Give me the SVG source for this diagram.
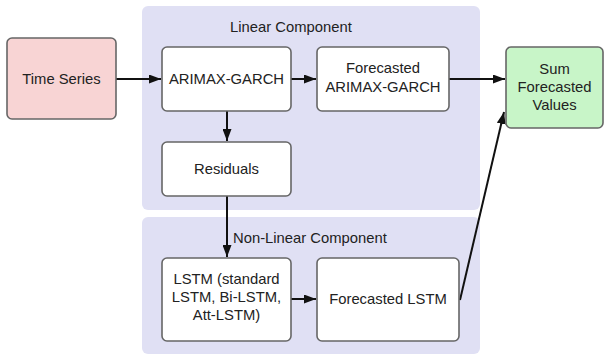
<svg xmlns="http://www.w3.org/2000/svg" width="611" height="356" viewBox="0 0 611 356">
  <style>
    text { font-family: "Liberation Sans", Arial, sans-serif; font-size: 14.8px; fill: #222; text-anchor: middle; }
    .panel { fill: #e0e0f4; stroke: none; }
    .box { fill: #ffffff; stroke: #666666; stroke-width: 1.6; }
    .start { fill: #f8d4d4; }
    .end { fill: #c8f5c8; }
    .edge { fill: none; stroke: #111; stroke-width: 2; marker-end: url(#head); }
    .label { text-anchor: start; }
  </style>
  <defs>
    <marker id="head" viewBox="0 0 12 9" refX="12" refY="4.5" markerWidth="6" markerHeight="4.5" orient="auto" markerUnits="strokeWidth">
      <path d="M0,0 L12,4.5 L0,9 z" fill="#111"/>
    </marker>
  </defs>

  <!-- component panels -->
  <g id="linear-component">
    <rect class="panel" x="142" y="6" width="338" height="204" rx="6"/>
    <text class="label" x="230" y="32">Linear Component</text>
  </g>
  <g id="nonlinear-component">
    <rect class="panel" x="142" y="217" width="338" height="137" rx="6"/>
    <text class="label" x="233" y="243">Non-Linear Component</text>
  </g>

  <!-- connectors -->
  <g id="connectors">
    <line class="edge" x1="116" y1="79" x2="161" y2="79"/>
    <line class="edge" x1="291" y1="79" x2="316" y2="79"/>
    <line class="edge" x1="449" y1="79" x2="505" y2="79"/>
    <line class="edge" x1="227" y1="111" x2="227" y2="141"/>
    <line class="edge" x1="227" y1="196" x2="227" y2="257"/>
    <line class="edge" x1="291" y1="299" x2="316" y2="299"/>
    <line class="edge" x1="460" y1="300" x2="504" y2="112"/>
  </g>

  <!-- nodes -->
  <g id="time-series">
    <rect class="box start" x="7" y="38" width="109" height="81" rx="5"/>
    <text x="61.5" y="84">Time Series</text>
  </g>
  <g id="arimax-garch">
    <rect class="box" x="162" y="47" width="129" height="64" rx="5"/>
    <text x="226.5" y="84">ARIMAX-GARCH</text>
  </g>
  <g id="forecasted-arimax-garch">
    <rect class="box" x="317" y="47" width="132" height="64" rx="5"/>
    <text x="383" y="73">Forecasted</text>
    <text x="383" y="92">ARIMAX-GARCH</text>
  </g>
  <g id="sum-forecasted-values">
    <rect class="box end" x="506" y="47" width="97" height="81" rx="5"/>
    <text x="554.5" y="74">Sum</text>
    <text x="554.5" y="92">Forecasted</text>
    <text x="554.5" y="110">Values</text>
  </g>
  <g id="residuals">
    <rect class="box" x="162" y="142" width="129" height="54" rx="5"/>
    <text x="226.5" y="174">Residuals</text>
  </g>
  <g id="lstm">
    <rect class="box" x="162" y="258" width="129" height="83" rx="5"/>
    <text x="226.5" y="284">LSTM (standard</text>
    <text x="226.5" y="302">LSTM, Bi-LSTM,</text>
    <text x="226.5" y="320">Att-LSTM)</text>
  </g>
  <g id="forecasted-lstm">
    <rect class="box" x="317" y="258" width="142" height="83" rx="5"/>
    <text x="388" y="304">Forecasted LSTM</text>
  </g>
</svg>
